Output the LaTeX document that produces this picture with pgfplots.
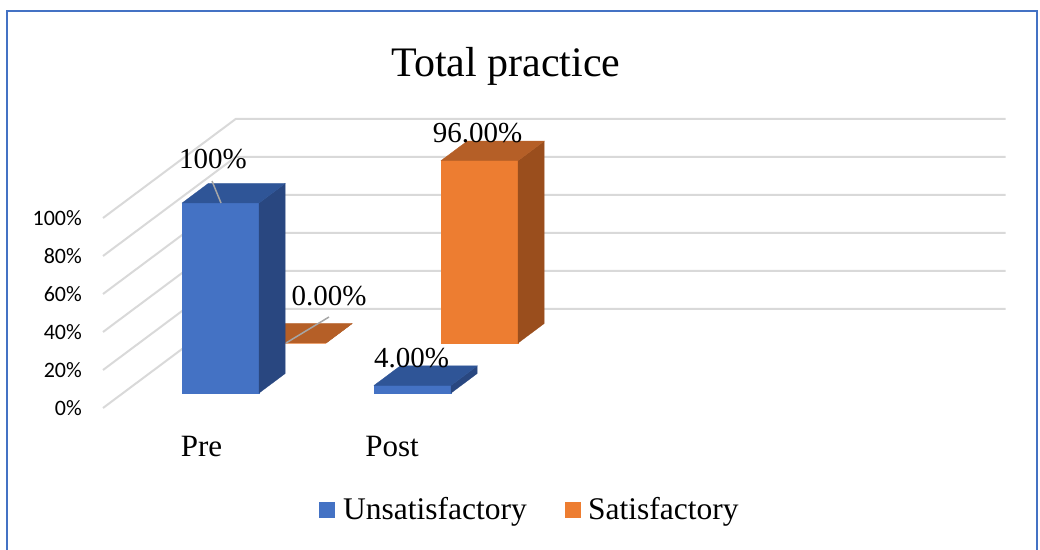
\documentclass[border=0pt]{standalone}
\usepackage{fontspec}
\setmainfont{Liberation Serif}
\newfontfamily\carlito{Carlito}
\usepackage{pgfplots}
\pgfplotsset{compat=1.18}
\definecolor{frameblue}{HTML}{4472C4}
\definecolor{bfront}{HTML}{4472C4}
\definecolor{btop}{HTML}{2F5597}
\definecolor{bside}{HTML}{294780}
\definecolor{ofront}{HTML}{ED7D31}
\definecolor{otop}{HTML}{B55F27}
\definecolor{oside}{HTML}{9A4E1D}
\definecolor{gridc}{HTML}{D9D9D9}
\definecolor{leader}{HTML}{A6A6A6}
% box: x0, x1, d0, d1, value, front, top, side
\newcommand{\barbox}[8]{%
  \addplot3[fill=#6, draw=#6, line width=0.3pt] coordinates {(#1,#3,0) (#2,#3,0) (#2,#3,#5) (#1,#3,#5)} -- cycle;
  \addplot3[fill=#8, draw=#8, line width=0.3pt] coordinates {(#2,#3,0) (#2,#4,0) (#2,#4,#5) (#2,#3,#5)} -- cycle;
  \addplot3[fill=#7, draw=#7, line width=0.3pt] coordinates {(#1,#3,#5) (#2,#3,#5) (#2,#4,#5) (#1,#4,#5)} -- cycle;
}
\begin{document}
\begin{tikzpicture}[x=1pt,y=1pt]
\path[use as bounding box] (0,0) rectangle (1040,549);
\draw[line width=2.2pt, frameblue] (7,-5) -- (7,538) -- (1037,538) -- (1037,-5);
\begin{axis}[
  x={(1pt,0pt)}, y={(1.34pt,1pt)}, z={(0pt,1.9pt)},
  xmin=0, xmax=770, ymin=0, ymax=99, zmin=0, zmax=100,
  hide axis, clip=false,
  anchor=origin, at={(103pt,141pt)},
]
% gridlines (left wall + back wall)
\foreach \lv in {0,20,40,60,80,100}{
  \edef\tmp{\noexpand\addplot3[gridc, line width=2pt] coordinates {(0,0,\lv) (0,99,\lv) (770,99,\lv)};}
  \tmp
}
% tick labels
\foreach \lv in {0,20,40,60,80,100}{
  \edef\tmp{\noexpand\node[anchor=east, font=\noexpand\carlito\noexpand\fontsize{22}{26}\noexpand\selectfont, inner sep=0pt] at (axis cs:0,0,\lv) [xshift=-21pt] {\lv\noexpand\%};}
  \tmp
}
% back row: Satisfactory
\barbox{59}{136}{65}{84.5}{0}{ofront}{otop}{oside}
\barbox{251}{328}{65}{84.5}{96}{ofront}{otop}{oside}
% front row: Unsatisfactory
\barbox{59}{136}{15}{34.5}{100}{bfront}{btop}{bside}
\barbox{251}{328}{15}{34.5}{4}{bfront}{btop}{bside}
\end{axis}
% title
\node[anchor=base, font=\fontsize{42}{48}\selectfont, inner sep=0pt] at (506,472) {Total practice};
% category labels
\node[anchor=base, font=\fontsize{31}{36}\selectfont, inner sep=0pt] at (201.5,93) {Pre};
\node[anchor=base, font=\fontsize{31}{36}\selectfont, inner sep=0pt] at (392,93) {Post};
% leader lines
\draw[leader, line width=1.5pt] (212,368) -- (221,346);
\draw[leader, line width=1.5pt] (329,232) -- (286,206);
% data labels
\node[anchor=base, font=\fontsize{29}{34}\selectfont, inner sep=0pt] at (213,380) {100\%};
\node[anchor=base, font=\fontsize{29}{34}\selectfont, inner sep=0pt] at (329,243) {0.00\%};
\node[anchor=base, font=\fontsize{29}{34}\selectfont, inner sep=0pt] at (411.5,182) {4.00\%};
\node[anchor=base, font=\fontsize{29}{34}\selectfont, inner sep=0pt] at (477.5,406) {96.00\%};
% legend
\fill[bfront] (319,31) rectangle (335,47);
\node[anchor=base west, font=\fontsize{31.5}{36}\selectfont, inner sep=0pt] at (343,30) {Unsatisfactory};
\fill[ofront] (565,31) rectangle (581,47);
\node[anchor=base west, font=\fontsize{31.5}{36}\selectfont, inner sep=0pt] at (588,30) {Satisfactory};
\end{tikzpicture}
\end{document}
